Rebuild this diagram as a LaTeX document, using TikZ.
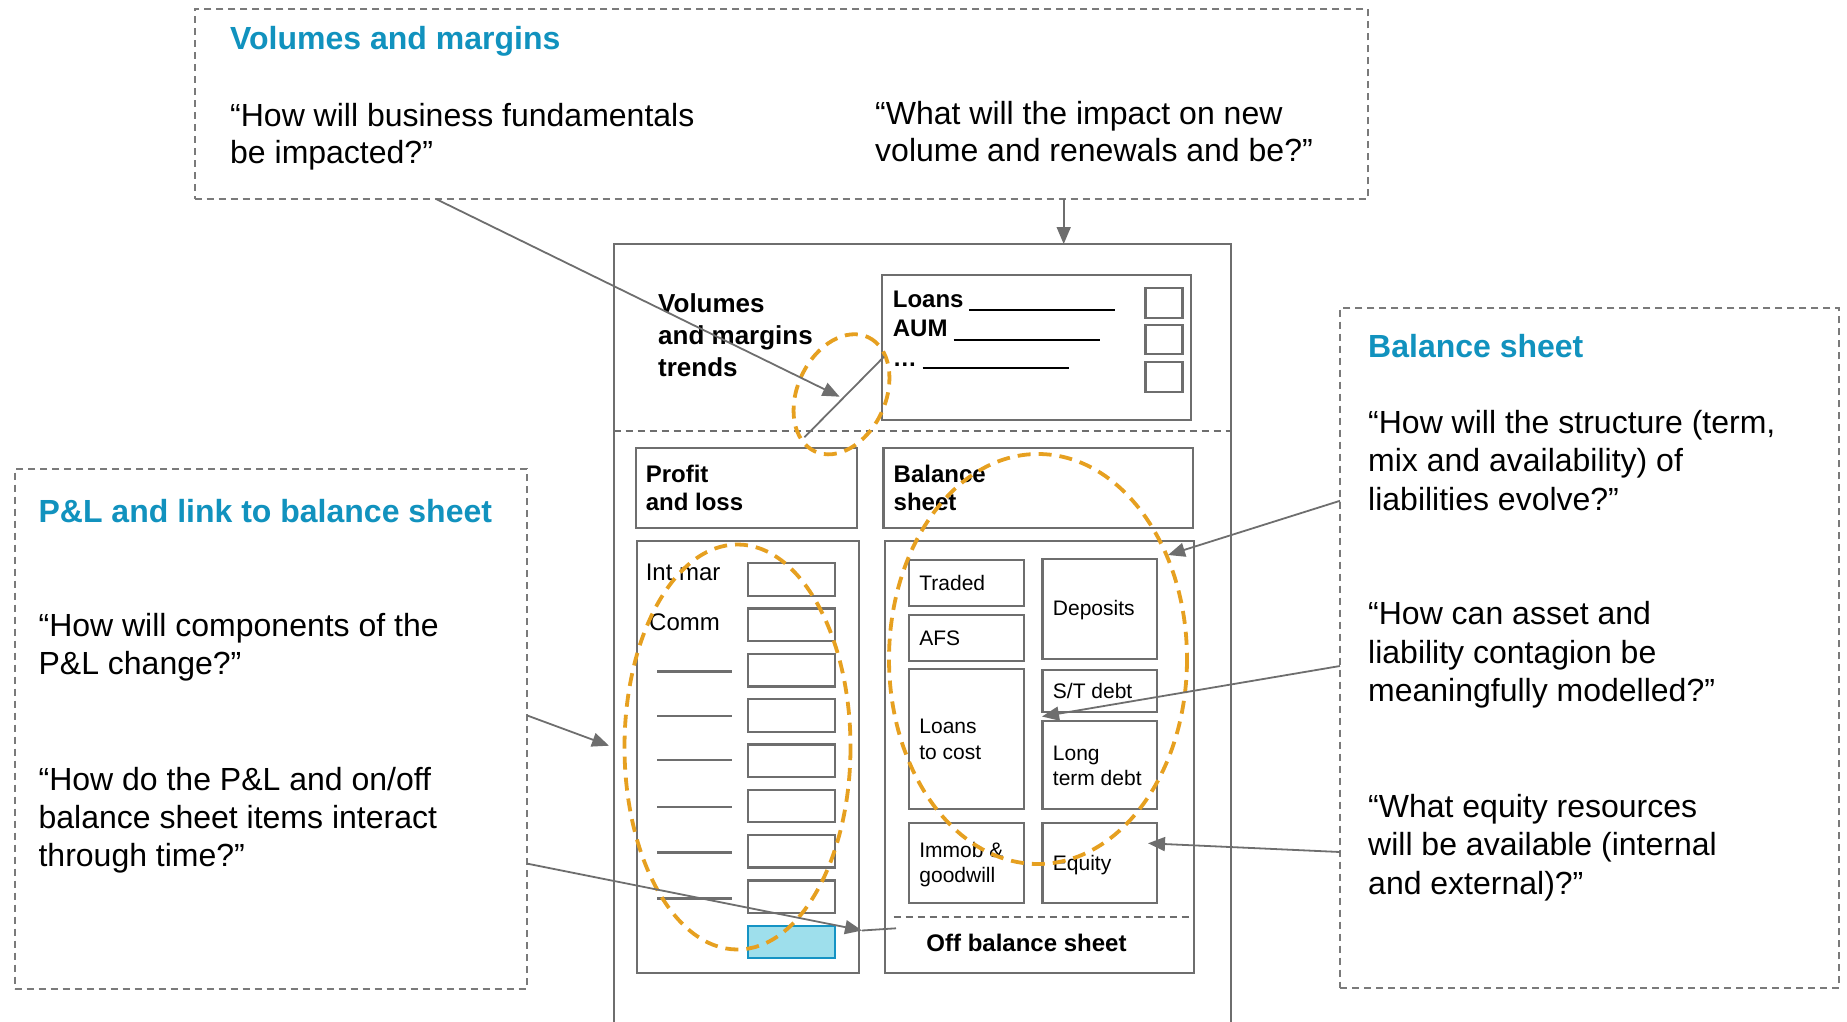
\documentclass[tikz,border=0pt]{standalone}
\usepackage{fontspec}
\setmainfont{Liberation Sans}
\usetikzlibrary{arrows.meta}
\definecolor{lg}{HTML}{6E6E6E}
\definecolor{dg}{HTML}{7A7A7A}
\definecolor{tblue}{HTML}{1192BE}
\definecolor{orng}{HTML}{E6A020}
\definecolor{cyfill}{HTML}{9EDFEC}
\definecolor{cyline}{HTML}{1593C4}
\newcommand\tl[1]{\begin{tabular}[t]{@{}l@{}}#1\end{tabular}}
\newcommand\mybox[6][]{\node[box,anchor=north west,minimum width={((#5)-(#3))*1pt},minimum height={((#6)-(#4))*1pt},#1] (#2) at (#3,#4) {};}
\begin{document}
\begin{tikzpicture}[x=1pt,y=-1pt,
  box/.style={draw=lg,line width=2.3pt,inner sep=0pt,outer sep=0pt},
  dbox/.style={draw=dg,line width=2pt,dash pattern=on 7pt off 5pt,inner sep=0pt,outer sep=0pt},
  arr/.style={draw=lg,line width=1.8pt,-{Triangle[length=17pt,width=14pt]}},
  oval/.style={draw=orng,line width=3.8pt,dash pattern=on 13pt off 8pt},
  q/.style={anchor=base west,inner sep=0pt,font=\fontsize{32}{37.5}\selectfont},
  ttl/.style={anchor=base west,inner sep=0pt,font=\fontsize{32}{38}\selectfont\bfseries,text=tblue},
  lbl/.style={anchor=base west,inner sep=0pt,font=\fontsize{24}{28}\selectfont\bfseries},
  reg/.style={anchor=base west,inner sep=0pt,font=\fontsize{24}{28}\selectfont},
  sm/.style={anchor=base west,inner sep=0pt,font=\fontsize{21}{26}\selectfont},
  uline/.style={draw=black,line width=1.3pt}]
\useasboundingbox (0,0) rectangle (1847,1022);

% ---------- dashed question boxes ----------
\mybox[dbox]{vmbox}{194.6}{9}{1368}{199}
\mybox[dbox]{bsbox}{1340}{308}{1839}{988.4}
\mybox[dbox]{plbox}{14.6}{469}{527}{988.6}

\node[ttl] (vmt) at (230,50) {Volumes and margins};
\node[q,font=\fontsize{32}{36.8}\selectfont] (vmq1) at (230,126.5) {\tl{“How will business fundamentals\\be impacted?”}};
\node[q,font=\fontsize{32}{36.8}\selectfont] (vmq2) at (875,125) {\tl{“What will the impact on new\\volume and renewals and be?”}};

\node[ttl] (bst) at (1368,357) {Balance sheet};
\node[q,font=\fontsize{32}{38.5}\selectfont] (bsq1) at (1368,433) {\tl{“How will the structure (term,\\mix and availability) of\\liabilities evolve?”}};
\node[q,font=\fontsize{32}{38.5}\selectfont] (bsq2) at (1368,624.6) {\tl{“How can asset and\\liability contagion be\\meaningfully modelled?”}};
\node[q,font=\fontsize{32}{38.5}\selectfont] (bsq3) at (1368,817) {\tl{“What equity resources\\will be available (internal\\and external)?”}};

\node[ttl] (plt) at (38.4,522.5) {P\&L and link to balance sheet};
\node[q] (plq1) at (38.4,636.8) {\tl{“How will components of the\\P\&L change?”}};
\node[q,font=\fontsize{32}{38}\selectfont] (plq2) at (38.4,790) {\tl{“How do the P\&L and on/off\\balance sheet items interact\\through time?”}};

% ---------- main diagram ----------
\draw[box] (613.7,1022) |- (1231,244) -- (1231,1022);
\coordinate (sepL) at (613.7,431);
\coordinate (sepR) at (1231,431);
\draw[draw=lg,line width=2pt,dash pattern=on 7pt off 5pt] (sepL) -- (sepR);

\node[anchor=base west,inner sep=0pt,font=\fontsize{26}{32}\selectfont\bfseries] (vmtr) at (658,312.7) {\tl{Volumes\\and margins\\trends}};

\mybox{loansbox}{882.3}{275}{1190.8}{420}
\mybox{sq1}{1145.6}{288.3}{1182.5}{318.3}
\mybox{sq2}{1145.6}{325}{1182.5}{354}
\mybox{sq3}{1145.6}{362.3}{1182.5}{392.3}
\node[lbl] (ln1) at (892.7,307.3) {Loans};
\node[lbl] (ln2) at (892.7,336.7) {AUM};
\node[lbl] (ln3) at (892.7,366.7) {…};
\coordinate (u1a) at (969,310); \coordinate (u1b) at (1115,310);
\coordinate (u2a) at (953.6,340); \coordinate (u2b) at (1099.6,340);
\coordinate (u3a) at (922.5,368); \coordinate (u3b) at (1068.5,368);
\draw[uline] (u1a) -- (u1b);
\draw[uline] (u2a) -- (u2b);
\draw[uline] (u3a) -- (u3b);

\mybox{plhead}{636}{448.3}{857}{528.3}
\mybox{bshead}{883.6}{448.3}{1192.9}{528.3}
\node[lbl] (plhl) at (645.6,482.7) {\tl{Profit\\and loss}};
\node[lbl] (bshl) at (893.5,482.7) {\tl{Balance\\sheet}};

\mybox{plbody}{637.3}{541}{858.7}{972.7}
\mybox{bsbody}{884.8}{541}{1194}{972.7}

% P&L rows
\foreach \k in {0,...,7}{
  \pgfmathsetmacro{\ytop}{563.3+45.3*\k}
  \pgfmathsetmacro{\ybot}{595.8+45.3*\k}
  \mybox{pr\k}{748}{\ytop}{835}{\ybot}
}
\mybox[fill=cyfill,draw=cyline]{pr8}{748}{925.7}{835}{958.3}
\node[reg] (intmar) at (645.6,580) {Int mar};
\node[reg] (comm) at (649,630.7) {Comm};
\foreach \y [count=\i] in {671.5,716,760,806.7,852.5,898.5}{
  \coordinate (da\i) at (657,\y); \coordinate (db\i) at (732,\y);
  \draw[draw=lg,line width=2.2pt] (da\i) -- (db\i);
}

% Balance sheet items
\mybox{traded}{908.9}{560}{1023.7}{606}
\mybox{afs}{908.9}{615}{1023.7}{661.3}
\mybox{ltc}{908.9}{669.3}{1023.7}{809}
\mybox{deposits}{1042.4}{559}{1156.8}{659.3}
\mybox{stdebt}{1042.4}{670}{1156.8}{711.7}
\mybox{ltdebt}{1042.4}{720.7}{1156.8}{809}
\mybox{immob}{908.9}{822.7}{1023.7}{902.7}
\mybox{equity}{1042.4}{822.7}{1156.8}{902.7}
\node[sm] (tradedt) at (919.2,590.7) {Traded};
\node[sm] (afst) at (919.2,645) {AFS};
\node[sm] (depositst) at (1052.7,615.7) {Deposits};
\node[sm] (stdebtt) at (1052.7,698.3) {S/T debt};
\node[sm] (ltct) at (919.2,733.3) {\tl{Loans\\to cost}};
\node[sm,font=\fontsize{21}{24.5}\selectfont] (ltdebtt) at (1052.7,760.5) {\tl{Long\\term debt}};
\node[sm,font=\fontsize{21}{25.5}\selectfont] (immobt) at (919.2,857.3) {\tl{Immob \&\\goodwill}};
\node[sm] (equityt) at (1052.7,870) {Equity};
\coordinate (obsL) at (893.5,916.7);
\coordinate (obsR) at (1194,916.7);
\draw[draw=lg,line width=2pt,dash pattern=on 7pt off 5pt] (obsL) -- (obsR);
\node[anchor=base,inner sep=0pt,font=\fontsize{24}{28}\selectfont\bfseries] (obs) at (1026.5,951.7) {Off balance sheet};

% ---------- orange dashed ovals ----------
\draw[oval,shift={(841.5,394.3)},rotate=65] (0,0) ellipse [x radius=63,y radius=44];
\draw[oval] (1038,659) ellipse [x radius=149,y radius=205];
\draw[oval] (737.5,747) ellipse [x radius=113,y radius=202.5];

% ---------- connectors ----------
\coordinate (c1s) at (436,199);   \coordinate (c1e) at (839.6,396.7);
\coordinate (c2s) at (1063.7,199); \coordinate (c2e) at (1063.7,244);
\coordinate (c3s) at (884,356.7);  \coordinate (c3e) at (804.4,437.3);
\coordinate (r1s) at (1340,500.8); \coordinate (r1e) at (1168,555);
\coordinate (r2s) at (1340,666);   \coordinate (r2e) at (1042,716.5);
\coordinate (r3s) at (1340,852);   \coordinate (r3e) at (1148,843.3);
\coordinate (l1s) at (527,715.4);  \coordinate (l1e) at (609,745.7);
\coordinate (l2s) at (527,863.6);  \coordinate (l2e) at (862,930.5);
\coordinate (l2f) at (896,928.3);
\draw[arr] (c1s) -- (c1e);
\draw[arr] (c2s) -- (c2e);
\draw[draw=lg,line width=1.8pt] (c3s) -- (c3e);
\draw[arr] (r1s) -- (r1e);
\draw[arr] (r2s) -- (r2e);
\draw[arr] (r3s) -- (r3e);
\draw[arr] (l1s) -- (l1e);
\draw[arr] (l2s) -- (l2e);
\draw[draw=lg,line width=1.8pt] (l2e) -- (l2f);
\end{tikzpicture}
\end{document}
